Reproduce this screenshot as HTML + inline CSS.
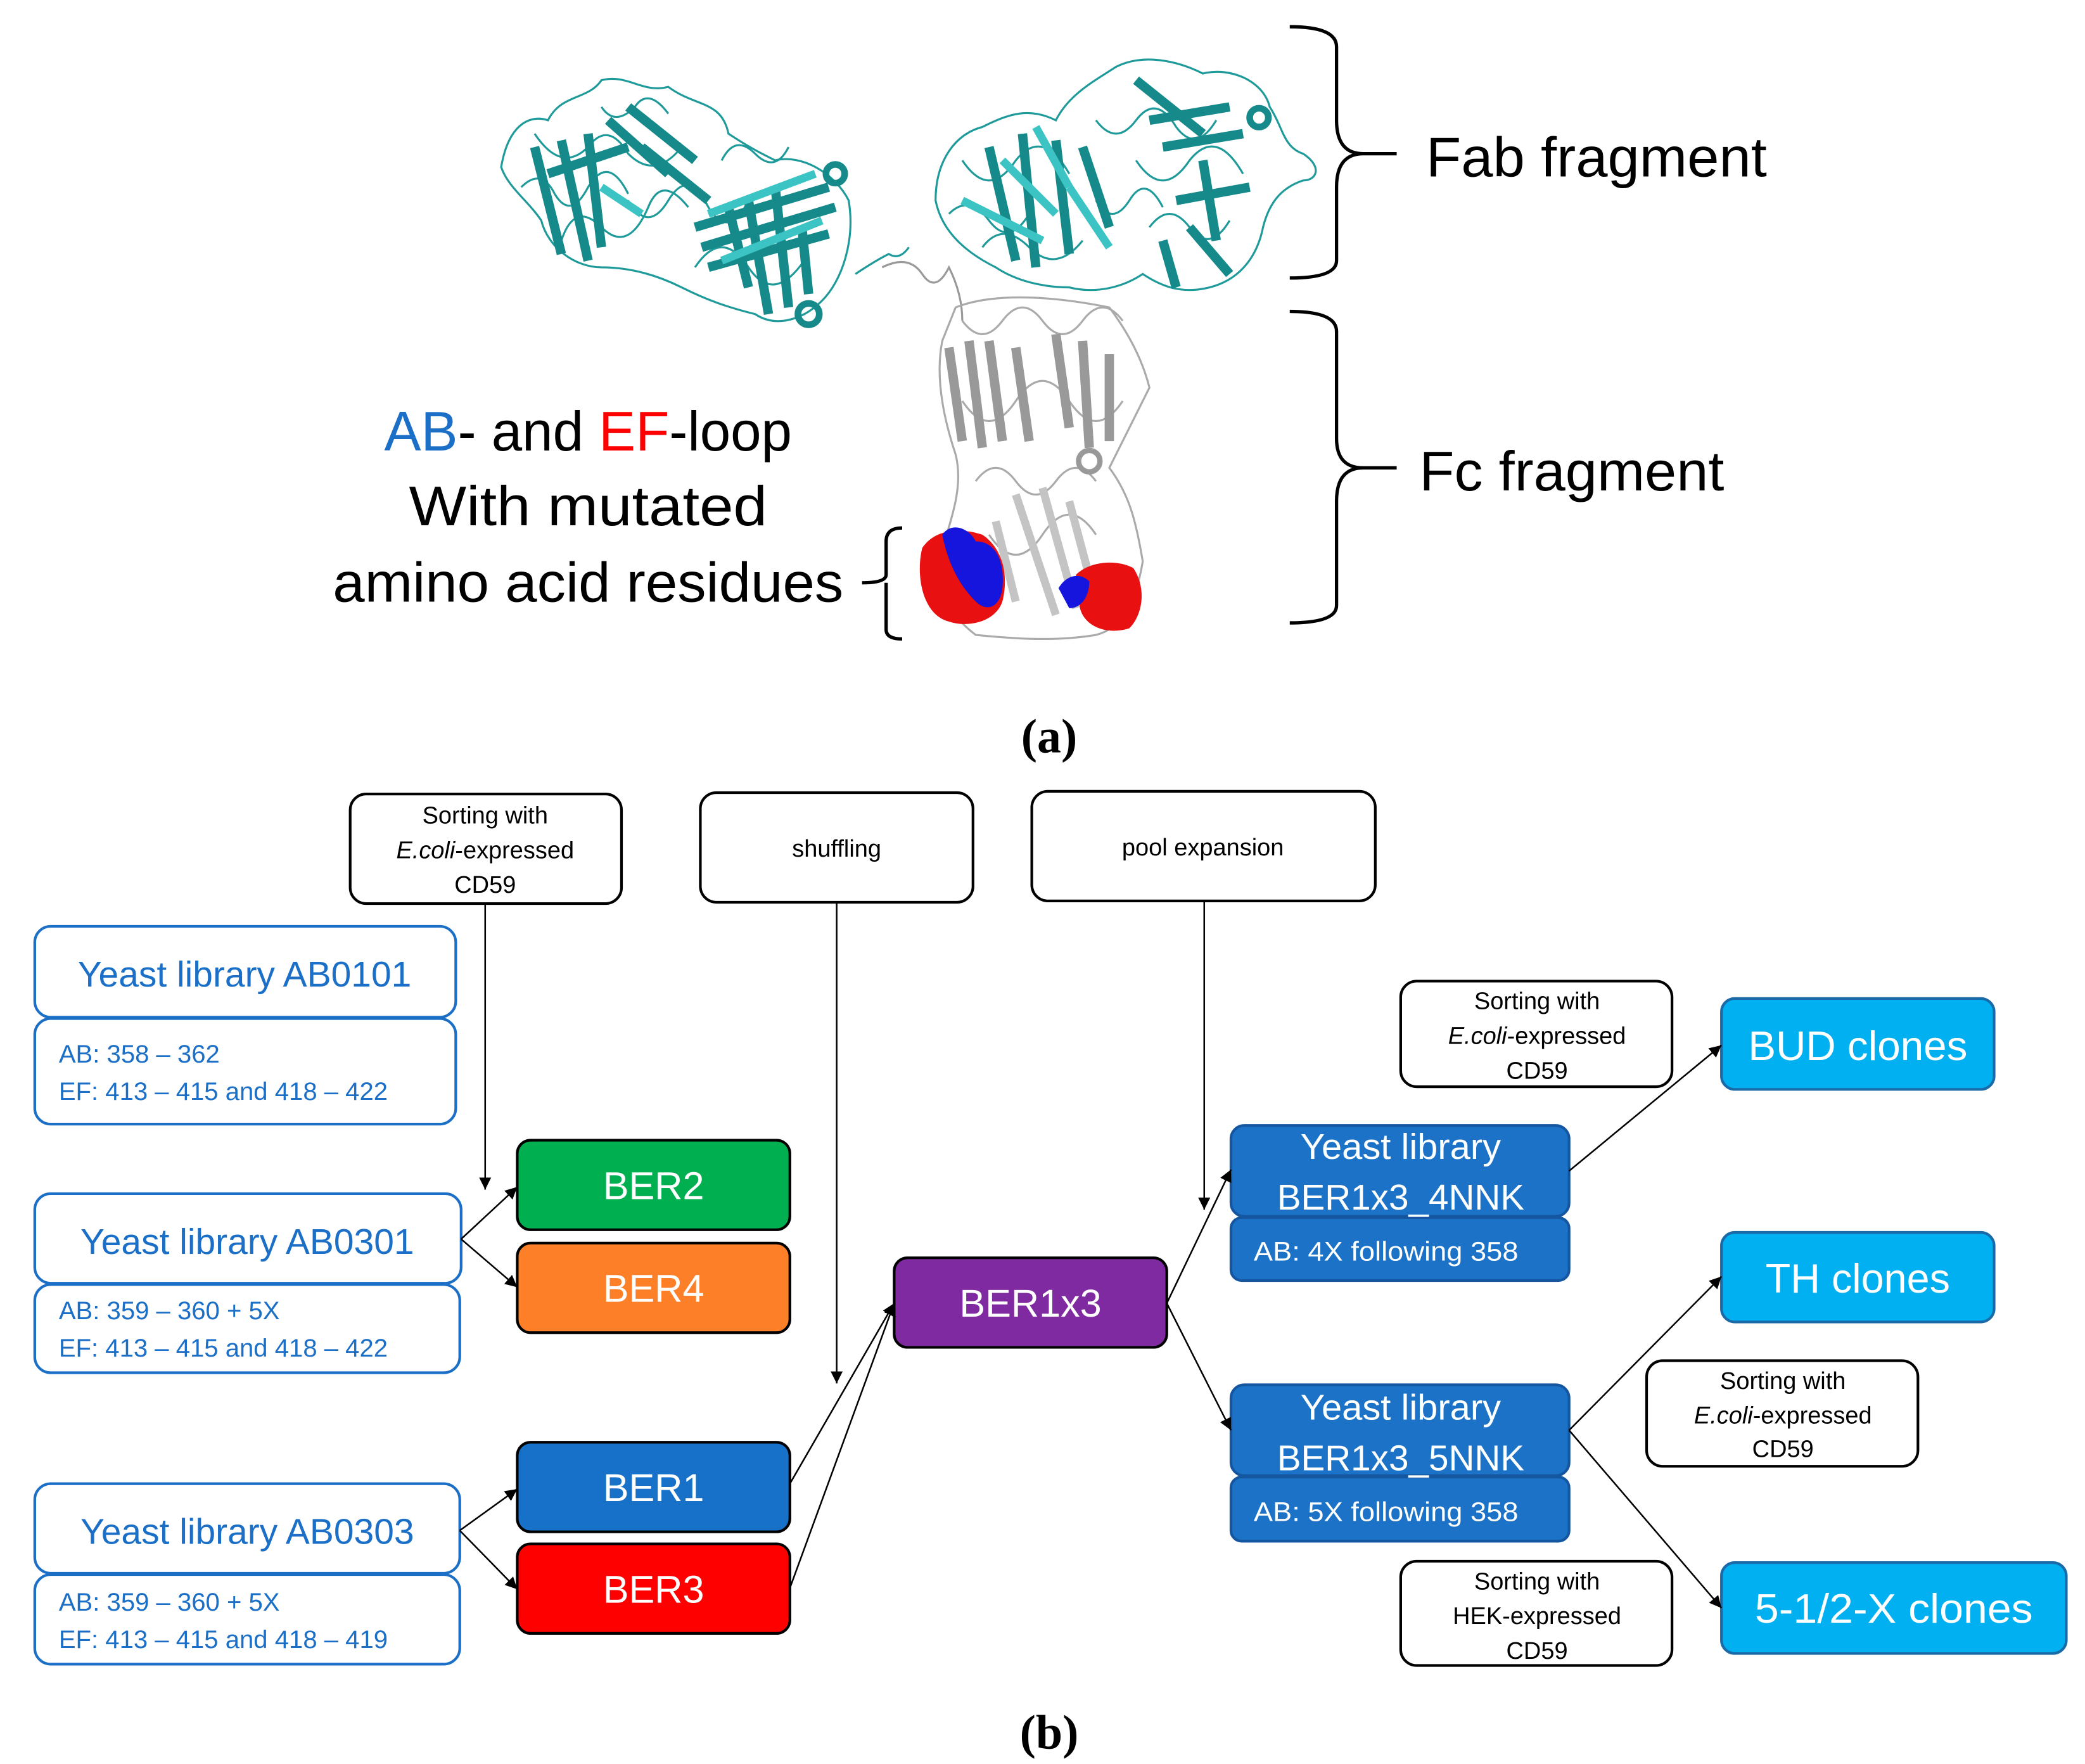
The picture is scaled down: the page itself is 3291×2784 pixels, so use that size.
<!DOCTYPE html>
<html><head><meta charset="utf-8"><style>html,body{margin:0;padding:0;background:#fff}svg{display:block}</style></head>
<body>
<svg width="3291" height="2784" viewBox="0 0 1560 1319.7" preserveAspectRatio="none" xmlns="http://www.w3.org/2000/svg" font-family="Liberation Sans, sans-serif">
<defs>
<marker id="ah" viewBox="0 0 10 10" refX="10" refY="5" markerWidth="9" markerHeight="9" markerUnits="userSpaceOnUse" orient="auto"><path d="M0,0 L10,5 L0,10 z" fill="#000"/></marker>
</defs>
<rect width="1560" height="1320" fill="#fff"/>

<!-- Protein: Fab left -->
<g stroke="#1f9a9a" fill="none" stroke-width="1.5">
<path d="M375,125 C380,95 395,85 410,90 C420,70 440,75 450,60 C470,55 480,70 500,65 C520,80 540,75 545,100 C560,110 570,115 580,120 C600,115 625,130 635,150 C640,180 630,210 615,225 C600,240 580,245 565,235 C545,230 530,225 510,215 C490,205 470,200 450,200 C430,200 410,185 405,165 C395,150 380,140 375,125 Z"/>
<path d="M400,100 q20,30 40,10 q15,-20 30,5 q20,20 40,-5"/>
<path d="M420,180 q10,-30 30,-10 q20,20 35,-15 q10,-25 30,0"/>
<path d="M520,200 q20,-30 40,0 q20,30 45,-10"/>
<path d="M390,140 q15,-15 25,5 q12,20 25,-5 q15,-25 30,5"/>
<path d="M470,150 q15,25 30,0 q15,-25 30,5 q15,25 30,-5"/>
<path d="M540,120 q10,-20 25,-5 q15,15 25,-5"/>
<path d="M450,80 q10,15 25,0 q10,-15 25,5"/>
<path d="M640,205 q15,-10 25,-15 q8,5 15,-5"/>
</g>
<g stroke="#168a8a" stroke-width="7" stroke-linecap="butt">
<line x1="400" y1="110" x2="420" y2="190"/><line x1="420" y1="105" x2="440" y2="195"/><line x1="440" y1="100" x2="450" y2="185"/>
<line x1="455" y1="90" x2="500" y2="130"/><line x1="470" y1="80" x2="520" y2="120"/><line x1="480" y1="110" x2="530" y2="150"/>
<line x1="520" y1="170" x2="620" y2="140"/><line x1="525" y1="185" x2="625" y2="155"/><line x1="530" y1="200" x2="620" y2="175"/>
<line x1="560" y1="150" x2="575" y2="235"/><line x1="580" y1="140" x2="590" y2="230"/><line x1="545" y1="155" x2="560" y2="215"/>
<line x1="410" y1="130" x2="470" y2="110"/><line x1="600" y1="170" x2="605" y2="220"/>
</g>
<g stroke="#3cc4c4" stroke-width="6"><line x1="530" y1="160" x2="610" y2="130"/><line x1="540" y1="195" x2="615" y2="165"/><line x1="450" y1="140" x2="480" y2="160"/></g>
<circle cx="605" cy="235" r="8" fill="none" stroke="#168a8a" stroke-width="5"/>
<circle cx="625" cy="130" r="7" fill="none" stroke="#168a8a" stroke-width="5"/>

<!-- Fab right -->
<g stroke="#1f9a9a" fill="none" stroke-width="1.5">
<path d="M700,150 C700,120 715,100 735,95 C755,85 770,80 790,90 C800,70 820,60 835,50 C855,40 880,45 900,55 C920,50 945,60 950,80 C960,95 960,110 975,115 C990,125 985,135 975,135 C960,140 950,150 945,170 C940,195 925,210 905,215 C885,220 870,215 855,205 C840,215 820,220 800,215 C780,215 760,210 745,200 C725,190 705,175 700,150 Z"/>
<path d="M720,120 q20,30 40,0 q20,-25 40,10"/>
<path d="M850,120 q20,30 40,0 q20,-25 40,10"/>
<path d="M860,170 q15,-20 30,0 q15,20 30,-5"/>
<path d="M735,185 q15,-20 35,0 q20,20 40,-5"/>
<path d="M820,90 q15,20 30,0 q15,-20 30,5 q15,20 30,-5"/>
<path d="M710,160 q15,-15 30,5 q15,20 30,-5"/>
<path d="M820,150 q12,20 25,0 q12,-20 25,5"/>
</g>
<g stroke="#168a8a" stroke-width="7">
<line x1="740" y1="110" x2="760" y2="195"/><line x1="765" y1="100" x2="775" y2="200"/><line x1="790" y1="105" x2="800" y2="190"/>
<line x1="850" y1="60" x2="900" y2="100"/><line x1="860" y1="90" x2="920" y2="80"/><line x1="870" y1="110" x2="930" y2="100"/>
<line x1="880" y1="150" x2="935" y2="140"/><line x1="890" y1="170" x2="920" y2="205"/><line x1="870" y1="180" x2="880" y2="215"/>
<line x1="900" y1="120" x2="910" y2="180"/><line x1="810" y1="110" x2="830" y2="170"/>
</g>
<g stroke="#3cc4c4" stroke-width="6"><line x1="750" y1="120" x2="790" y2="160"/><line x1="720" y1="150" x2="780" y2="180"/><line x1="800" y1="140" x2="830" y2="185"/><line x1="775" y1="95" x2="800" y2="140"/></g>
<circle cx="942" cy="88" r="7" fill="none" stroke="#168a8a" stroke-width="5"/>

<!-- hinge -->
<path d="M660,200 q20,-10 30,5 q10,15 20,-5 q10,20 10,40" stroke="#999" stroke-width="1.5" fill="none"/>

<!-- Fc gray -->
<g stroke="#aaa" fill="none" stroke-width="1.5">
<path d="M715,230 C740,220 780,220 830,230 C845,250 855,270 860,290 C850,310 840,330 830,350 C845,370 850,390 855,420 C850,450 840,470 820,475 C790,480 760,478 730,475 C710,460 700,440 705,410 C715,380 720,360 715,340 C705,310 700,280 705,255 Z"/>
<path d="M720,300 q20,30 40,0 q20,-30 40,0 q20,30 40,0"/>
<path d="M730,360 q15,-20 30,0 q15,20 30,0 q15,-20 30,0"/>
<path d="M740,400 q20,30 40,0 q20,-30 40,0"/>
<path d="M720,240 q15,20 30,0 q15,-20 30,0 q15,20 30,0 q15,-20 30,0"/>
</g>
<g stroke="#999" stroke-width="7">
<line x1="710" y1="260" x2="720" y2="330"/><line x1="725" y1="255" x2="735" y2="335"/><line x1="740" y1="255" x2="750" y2="330"/><line x1="760" y1="260" x2="770" y2="330"/>
<line x1="790" y1="250" x2="800" y2="320"/><line x1="810" y1="255" x2="815" y2="335"/><line x1="830" y1="265" x2="830" y2="330"/>
</g>
<g stroke="#c4c4c4" stroke-width="6">
<line x1="760" y1="370" x2="790" y2="460"/><line x1="780" y1="365" x2="805" y2="455"/><line x1="800" y1="375" x2="820" y2="450"/><line x1="745" y1="390" x2="760" y2="450"/>
</g>
<circle cx="815" cy="345" r="8" fill="none" stroke="#999" stroke-width="4"/>
<!-- red/blue surfaces -->
<path d="M690,410 C700,395 720,395 735,400 C750,410 755,430 750,450 C745,465 725,470 710,465 C690,460 685,430 690,410 Z" fill="#e81010"/>
<path d="M705,400 C712,390 725,395 730,405 C745,405 752,420 750,440 C748,455 738,458 730,450 C720,440 710,425 705,400 Z" fill="#1515dd"/>
<path d="M805,430 C815,420 835,418 848,425 C858,440 855,460 845,470 C830,475 812,470 808,455 Z" fill="#e81010"/>
<path d="M792,440 C798,430 808,428 815,435 C815,445 810,455 800,455 Z" fill="#1515dd"/>

<!-- braces -->
<g stroke="#000" stroke-width="2.5" fill="none">
<path d="M965,20 q35,0 35,15 l0,55 q0,25 20,25 l25,0 M1020,115 q-20,0 -20,25 l0,55 q0,13 -35,13"/>
<path d="M965,233 q35,0 35,15 l0,80 q0,22 20,22 l25,0 M1020,350 q-20,0 -20,25 l0,78 q0,13 -35,13"/>
<path d="M675,395 q-12,0 -12,10 l0,25 q0,6 -18,6 M663,436 q0,6 0,10 l0,25 q0,7 12,7"/>
</g>
<text x="1067" y="132" font-size="42" fill="#000" textLength="255" lengthAdjust="spacingAndGlyphs">Fab fragment</text>
<text x="1062" y="367" font-size="42" fill="#000" textLength="228" lengthAdjust="spacingAndGlyphs">Fc fragment</text>
<text x="440" y="337" font-size="42" text-anchor="middle" textLength="305" lengthAdjust="spacingAndGlyphs"><tspan fill="#1b6fc6">AB</tspan><tspan fill="#000">- and </tspan><tspan fill="#f00">EF</tspan><tspan fill="#000">-loop</tspan></text>
<text x="440" y="393" font-size="42" text-anchor="middle" fill="#000" textLength="268" lengthAdjust="spacingAndGlyphs">With mutated</text>
<text x="440" y="450" font-size="42" text-anchor="middle" fill="#000" textLength="382" lengthAdjust="spacingAndGlyphs">amino acid residues</text>
<text x="785" y="563" font-size="36" text-anchor="middle" font-family="Liberation Serif, serif" font-weight="bold">(a)</text>
<text x="785" y="1308" font-size="36" text-anchor="middle" font-family="Liberation Serif, serif" font-weight="bold">(b)</text>

<!-- top label boxes -->
<g fill="#fff" stroke="#000" stroke-width="2">
<rect x="262" y="594" width="203" height="82" rx="12"/>
<rect x="524" y="593" width="204" height="82" rx="12"/>
<rect x="772" y="592" width="257" height="82" rx="12"/>
<rect x="1048" y="734" width="203" height="79" rx="12"/>
<rect x="1232" y="1018" width="203" height="79" rx="12"/>
<rect x="1048" y="1168" width="203" height="78" rx="12"/>
</g>
<g font-size="18" text-anchor="middle" fill="#000">
<text x="363" y="616">Sorting with</text><text x="363" y="642"><tspan font-style="italic">E.coli</tspan>-expressed</text><text x="363" y="668">CD59</text>
<text x="626" y="641">shuffling</text>
<text x="900" y="640">pool expansion</text>
<text x="1150" y="755">Sorting with</text><text x="1150" y="781"><tspan font-style="italic">E.coli</tspan>-expressed</text><text x="1150" y="807">CD59</text>
<text x="1334" y="1039">Sorting with</text><text x="1334" y="1065"><tspan font-style="italic">E.coli</tspan>-expressed</text><text x="1334" y="1090">CD59</text>
<text x="1150" y="1189">Sorting with</text><text x="1150" y="1215">HEK-expressed</text><text x="1150" y="1241">CD59</text>
</g>

<!-- yeast libraries left -->
<g fill="#fff" stroke="#1b6fc6" stroke-width="2">
<rect x="26" y="693" width="315" height="68" rx="12"/><rect x="26" y="762" width="315" height="79" rx="12"/>
<rect x="26" y="893" width="319" height="67" rx="12"/><rect x="26" y="961" width="318" height="66" rx="12"/>
<rect x="26" y="1110" width="318" height="67" rx="12"/><rect x="26" y="1178" width="318" height="67" rx="12"/>
</g>
<g fill="#1b6fc6">
<text x="183" y="738" font-size="27" text-anchor="middle">Yeast library AB0101</text>
<text x="185" y="938" font-size="27" text-anchor="middle">Yeast library AB0301</text>
<text x="185" y="1155" font-size="27" text-anchor="middle">Yeast library AB0303</text>
<g font-size="19">
<text x="44" y="795">AB: 358 – 362</text><text x="44" y="823">EF: 413 – 415 and 418 – 422</text>
<text x="44" y="987">AB: 359 – 360 + 5X</text><text x="44" y="1015">EF: 413 – 415 and 418 – 422</text>
<text x="44" y="1205">AB: 359 – 360 + 5X</text><text x="44" y="1233">EF: 413 – 415 and 418 – 419</text>
</g></g>

<!-- BER boxes -->
<g stroke="#000" stroke-width="2">
<rect x="387" y="853" width="204" height="67" rx="10" fill="#00b050"/>
<rect x="387" y="930" width="204" height="67" rx="10" fill="#fd7f28"/>
<rect x="387" y="1079" width="204" height="67" rx="10" fill="#1871c8"/>
<rect x="387" y="1155" width="204" height="67" rx="10" fill="#fe0000"/>
<rect x="669" y="941" width="204" height="67" rx="10" fill="#7f2aa0"/>
</g>
<g fill="#fff" font-size="29" text-anchor="middle">
<text x="489" y="897">BER2</text><text x="489" y="974">BER4</text><text x="489" y="1123">BER1</text><text x="489" y="1199">BER3</text>
<text x="771" y="985">BER1x3</text>
</g>

<!-- right yeast libs -->
<g fill="#1b72c6" stroke="#1457a0" stroke-width="2">
<rect x="921" y="842" width="253" height="68" rx="10"/><rect x="921" y="911" width="253" height="47" rx="8"/>
<rect x="921" y="1036" width="253" height="68" rx="10"/><rect x="921" y="1105" width="253" height="48" rx="8"/>
</g>
<g fill="#fff" text-anchor="middle" font-size="27">
<text x="1048" y="867" textLength="150" lengthAdjust="spacingAndGlyphs">Yeast library</text>
<text x="1048" y="905" textLength="185" lengthAdjust="spacingAndGlyphs">BER1x3_4NNK</text>
<text x="1048" y="1062" textLength="150" lengthAdjust="spacingAndGlyphs">Yeast library</text>
<text x="1048" y="1100" textLength="185" lengthAdjust="spacingAndGlyphs">BER1x3_5NNK</text>
</g>
<g fill="#fff" font-size="20">
<text x="938" y="943" textLength="198" lengthAdjust="spacingAndGlyphs">AB: 4X following 358</text>
<text x="938" y="1138" textLength="198" lengthAdjust="spacingAndGlyphs">AB: 5X following 358</text>
</g>

<!-- clones -->
<g fill="#00b0f0" stroke="#1a6aa8" stroke-width="2">
<rect x="1288" y="747" width="204" height="68" rx="10"/>
<rect x="1288" y="922" width="204" height="67" rx="10"/>
<rect x="1288" y="1169" width="258" height="68" rx="10"/>
</g>
<g fill="#fff" font-size="31" text-anchor="middle">
<text x="1390" y="793" textLength="164" lengthAdjust="spacingAndGlyphs">BUD clones</text>
<text x="1390" y="967" textLength="138" lengthAdjust="spacingAndGlyphs">TH clones</text>
<text x="1417" y="1214" textLength="208" lengthAdjust="spacingAndGlyphs">5-1/2-X clones</text>
</g>

<!-- connectors -->
<g stroke="#000" stroke-width="1.2" fill="none" marker-end="url(#ah)">
<line x1="363" y1="676" x2="363" y2="890"/>
<line x1="345" y1="927" x2="387" y2="888"/>
<line x1="345" y1="927" x2="387" y2="963"/>
<line x1="344" y1="1145" x2="387" y2="1114"/>
<line x1="344" y1="1145" x2="387" y2="1189"/>
<line x1="626" y1="675" x2="626" y2="1035"/>
<line x1="591" y1="1110" x2="669" y2="975"/>
<line x1="591" y1="1188" x2="669" y2="975"/>
<line x1="901" y1="674" x2="901" y2="905"/>
<line x1="873" y1="975" x2="921" y2="875"/>
<line x1="873" y1="975" x2="921" y2="1070"/>
<line x1="1174" y1="876" x2="1288" y2="782"/>
<line x1="1174" y1="1070" x2="1288" y2="955"/>
<line x1="1174" y1="1070" x2="1288" y2="1203"/>
</g>
</svg>
</body></html>
